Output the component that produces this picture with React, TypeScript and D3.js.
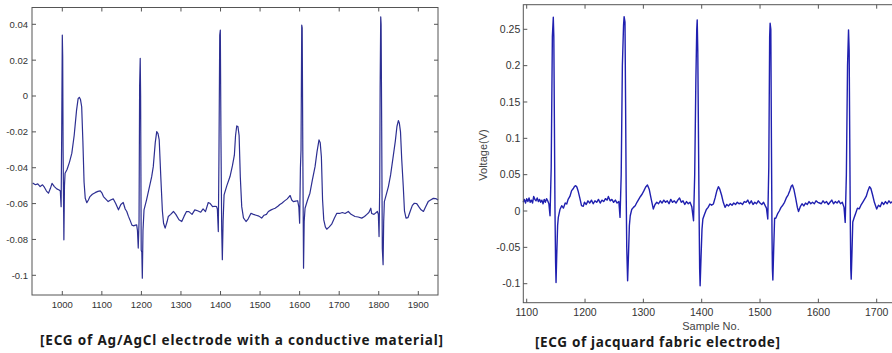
import * as d3 from 'd3'

document.body.style.margin = '0'

// [sample, value]
const agAgClSeries: [number, number][] = [
  [925, -0.0485], [932, -0.0495], [938, -0.049], [944, -0.0505], [950, -0.0495], [955, -0.051],
  [960, -0.053], [965, -0.0542], [970, -0.0515], [974, -0.0487], [980, -0.0505], [986, -0.0518],
  [992, -0.0524], [995, -0.053], [997, -0.0617], [998.5, -0.02], [1000, 0.034], [1001, 0.022],
  [1002, -0.03], [1004, -0.0802], [1005.5, -0.05], [1007, -0.0431], [1012, -0.041], [1018, -0.037],
  [1024, -0.032], [1030, -0.022], [1036, -0.008], [1040, -0.0015], [1043, -0.0007], [1046, -0.002],
  [1049, -0.006], [1052, -0.025], [1055, -0.048], [1058, -0.057], [1062, -0.0595], [1066, -0.058],
  [1070, -0.0561], [1076, -0.0548], [1083, -0.0539], [1090, -0.0532], [1096, -0.0529], [1100, -0.054],
  [1104, -0.0561], [1110, -0.0575], [1116, -0.0589], [1122, -0.058], [1129, -0.0574], [1135, -0.06],
  [1142, -0.0635], [1148, -0.0605], [1154, -0.0594], [1159, -0.063], [1163, -0.0644], [1167, -0.067],
  [1171, -0.0691], [1176, -0.072], [1180, -0.0724], [1185, -0.072], [1188, -0.0719], [1190, -0.075],
  [1192, -0.0848], [1194, -0.07], [1195.5, 0.006], [1197, 0.021], [1198, 0.0], [1199.5, -0.086],
  [1201, -0.087], [1202.3, -0.1016], [1204, -0.075], [1206.6, -0.0635], [1213, -0.0579], [1220, -0.051],
  [1226, -0.045], [1230, -0.0394], [1235, -0.026], [1238.7, -0.0199], [1242, -0.021], [1245, -0.0245],
  [1249, -0.045], [1253, -0.064], [1256, -0.071], [1260, -0.0737], [1265, -0.07], [1268, -0.0672],
  [1274, -0.066], [1281, -0.0644], [1287, -0.066], [1295, -0.069], [1302, -0.07], [1308, -0.067],
  [1314, -0.0644], [1320, -0.0645], [1328, -0.066], [1335, -0.0635], [1342, -0.064], [1350, -0.0648],
  [1356, -0.063], [1362, -0.0645], [1369, -0.0594], [1374, -0.06], [1380, -0.0617], [1386, -0.0615],
  [1390, -0.0617], [1392, -0.063], [1394.4, -0.0756], [1396, -0.035], [1398, 0.034], [1399.5, 0.0368],
  [1401, -0.02], [1403, -0.075], [1404.6, -0.0913], [1406.5, -0.07], [1409, -0.0551], [1416, -0.05],
  [1424, -0.0449], [1430, -0.039], [1435, -0.033], [1438, -0.022], [1441, -0.0167], [1444, -0.017],
  [1447, -0.022], [1450, -0.045], [1453.6, -0.0617], [1458, -0.068], [1464.5, -0.07], [1470, -0.0685],
  [1477, -0.0654], [1483, -0.066], [1490, -0.0665], [1497, -0.067], [1504, -0.0681], [1510, -0.0665],
  [1516, -0.066], [1521, -0.0644], [1528, -0.0635], [1533, -0.063], [1538, -0.0626], [1545, -0.0615],
  [1550, -0.0605], [1555, -0.0598], [1562, -0.0585], [1568, -0.0575], [1572, -0.0565], [1576, -0.0555],
  [1580, -0.058], [1584, -0.0589], [1590, -0.0586], [1595, -0.0584], [1598, -0.062], [1600, -0.0709],
  [1602, -0.04], [1603.5, -0.03], [1605.3, 0.0395], [1606.5, 0.038], [1608, -0.03], [1609.9, -0.096],
  [1611.5, -0.07], [1613.7, -0.0626], [1620, -0.058], [1626, -0.0542], [1632, -0.047], [1639, -0.0394],
  [1644, -0.031], [1649, -0.0245], [1652, -0.026], [1655, -0.034], [1658, -0.058], [1661, -0.0691],
  [1665, -0.073], [1668.5, -0.0743], [1675, -0.073], [1681, -0.0715], [1688, -0.068], [1694, -0.0654],
  [1701, -0.0655], [1708, -0.065], [1715, -0.0655], [1723, -0.0644], [1730, -0.066], [1740, -0.0672],
  [1748, -0.0675], [1757, -0.0681], [1764, -0.0672], [1770, -0.066], [1775, -0.065], [1780, -0.0626],
  [1782, -0.0655], [1788, -0.066], [1796.5, -0.0644], [1799, -0.066], [1800.8, -0.0784], [1802.5, -0.05],
  [1803.5, 0.005], [1805, 0.0442], [1806, 0.04], [1807.5, -0.02], [1809, -0.085], [1811, -0.0941],
  [1812.5, -0.07], [1814.2, -0.0589], [1819, -0.055], [1824.4, -0.0505], [1830, -0.044], [1837, -0.033],
  [1842, -0.025], [1846, -0.017], [1849.6, -0.0137], [1852, -0.015], [1855, -0.02], [1858, -0.035],
  [1862, -0.0505], [1865, -0.064], [1869, -0.0681], [1874, -0.0678], [1880, -0.064], [1885, -0.061],
  [1890, -0.0598], [1896, -0.06], [1902, -0.062], [1907, -0.0635], [1913, -0.0644], [1918, -0.062],
  [1925, -0.0589], [1931, -0.058], [1938, -0.0571], [1944, -0.0572], [1950, -0.058],
]

// [sample, volts]
const jacquardSeries: [number, number][] = [
  [1094, 0.012], [1096, 0.016], [1098, 0.011], [1100, 0.017], [1102, 0.013], [1104, 0.018], [1106, 0.012],
  [1108, 0.015], [1110, 0.011], [1112, 0.02], [1114, 0.016], [1116, 0.014], [1118, 0.018], [1120, 0.013],
  [1122, 0.016], [1124, 0.012], [1126, 0.015], [1128, 0.01], [1130, 0.016], [1132, 0.012], [1134, 0.017],
  [1136, 0.014], [1138, 0.01], [1140, -0.0065], [1142, 0.06], [1144, 0.24], [1145.6, 0.2666], [1146.5, 0.24],
  [1147.5, 0.12], [1148.5, 0.0], [1149.5, -0.07], [1150.3, -0.0983], [1151.5, -0.06], [1153, -0.02],
  [1154.2, -0.0088], [1157, 0.002], [1160, 0.0073], [1163, 0.004], [1166, 0.011], [1168.6, 0.0096],
  [1171, 0.016], [1174, 0.02], [1177, 0.028], [1180, 0.031], [1182, 0.034], [1184, 0.0348], [1186, 0.033],
  [1188, 0.028], [1191, 0.018], [1194, 0.0073], [1197, 0.0064], [1199, 0.012], [1202, 0.009], [1205, 0.014],
  [1208, 0.011], [1211, 0.015], [1214, 0.01], [1217, 0.014], [1220, 0.012], [1223, 0.016], [1226, 0.011],
  [1229, 0.015], [1232, 0.013], [1235, 0.017], [1238, 0.015], [1240, 0.02], [1243, 0.014], [1246, 0.016],
  [1249, 0.012], [1252, 0.015], [1255, 0.011], [1258, 0.013], [1260, -0.0088], [1262, 0.05], [1264, 0.2],
  [1266, 0.255], [1267, 0.2675], [1268.5, 0.26], [1269.5, 0.15], [1270.5, 0.03], [1271.5, -0.05],
  [1273, -0.096], [1274.5, -0.06], [1276, -0.02], [1277.5, -0.0065], [1280, 0.002], [1283, 0.005],
  [1286, 0.0073], [1289, 0.012], [1292, 0.016], [1295, 0.02], [1298, 0.0234], [1301, 0.028], [1304, 0.033],
  [1307, 0.0358], [1310, 0.03], [1313, 0.018], [1317, 0.0028], [1320, 0.009], [1323, 0.012], [1326, 0.01],
  [1329, 0.014], [1332, 0.011], [1335, 0.015], [1338, 0.012], [1341, 0.014], [1344, 0.01], [1347, 0.016],
  [1350, 0.012], [1353, 0.014], [1356, 0.011], [1359, 0.015], [1362, 0.018], [1365, 0.012], [1368, 0.014],
  [1371, 0.009], [1374, 0.013], [1377, 0.01], [1380, 0.012], [1383, 0.006], [1386, -0.0134], [1388, 0.05],
  [1390, 0.18], [1391.5, 0.25], [1392.3, 0.263], [1393.3, 0.22], [1394.5, 0.1], [1395.5, 0.0],
  [1396.5, -0.08], [1397.3, -0.1029], [1399, -0.06], [1400.5, -0.025], [1402, -0.011], [1405, -0.004],
  [1408, 0.002], [1411, 0.005], [1414, 0.0096], [1417, 0.008], [1420, 0.0096], [1423, 0.018], [1426, 0.028],
  [1428.6, 0.0335], [1431, 0.03], [1434, 0.022], [1437, 0.012], [1440, 0.005], [1443, 0.009], [1446, 0.007],
  [1449, 0.01], [1452, 0.008], [1455, 0.011], [1458, 0.009], [1461, 0.012], [1464, 0.01], [1467, 0.011],
  [1470, 0.009], [1473, 0.013], [1476, 0.012], [1479, 0.015], [1482, 0.01], [1485, 0.014], [1488, 0.009],
  [1491, 0.012], [1494, 0.01], [1497, 0.014], [1500, 0.011], [1503, 0.009], [1506, 0.012], [1509, 0.007],
  [1511, 0.004], [1513.3, -0.011], [1515, 0.06], [1516.5, 0.24], [1517.3, 0.2583], [1518.5, 0.25],
  [1519.5, 0.1], [1520.5, -0.03], [1521.2, -0.08], [1522, -0.095], [1523.5, -0.05], [1525, -0.01],
  [1527, -0.01], [1530, -0.004], [1533, 0.0], [1536, 0.005], [1539, 0.008], [1542, 0.012], [1545, 0.018],
  [1548, 0.022], [1551, 0.028], [1553.5, 0.034], [1555.6, 0.0358], [1558, 0.03], [1561, 0.018], [1564, 0.005],
  [1566, -0.0006], [1569, 0.006], [1572, 0.01], [1575, 0.007], [1578, 0.011], [1581, 0.009], [1584, 0.013],
  [1587, 0.01], [1590, 0.012], [1593, 0.01], [1596, 0.014], [1599, 0.012], [1602, 0.011], [1605, 0.01],
  [1608, 0.014], [1611, 0.011], [1614, 0.013], [1617, 0.009], [1620, 0.012], [1623, 0.015], [1626, 0.01],
  [1629, 0.013], [1632, 0.011], [1635, 0.014], [1638, 0.01], [1641, 0.012], [1644, 0.005], [1646, -0.0157],
  [1648, 0.05], [1650, 0.2], [1651.7, 0.2492], [1652.8, 0.22], [1653.8, 0.1], [1654.8, -0.02],
  [1655.6, -0.08], [1656.3, -0.0937], [1657.5, -0.06], [1659, -0.015], [1661, -0.01], [1664, -0.003],
  [1667, 0.004], [1670, 0.003], [1673, 0.008], [1676, 0.012], [1679, 0.016], [1682, 0.02], [1685, 0.028],
  [1687.7, 0.0335], [1690, 0.031], [1693, 0.022], [1696, 0.012], [1700, 0.0028], [1703, 0.008], [1706, 0.006],
  [1709, 0.012], [1712, 0.009], [1715, 0.013], [1718, 0.01], [1721, 0.014], [1724, 0.011], [1727, 0.013],
  [1730, 0.009], [1733, 0.012],
]

const leftXTicks = [1000, 1100, 1200, 1300, 1400, 1500, 1600, 1700, 1800, 1900]
const leftYTicks = [0.04, 0.02, 0, -0.02, -0.04, -0.06, -0.08, -0.1]
const rightXTicks = [1100, 1200, 1300, 1400, 1500, 1600, 1700]
const rightYTicks = [0.25, 0.2, 0.15, 0.1, 0.05, 0, -0.05, -0.1]

const leftCaption = '[ECG of Ag/AgCl electrode with a conductive material]'
const rightCaption = '[ECG of jacquard fabric electrode]'

const W = 892
const H = 353
const TICK = 4
const FRAME = '#555'
const LABEL = '#333'
const FONT = '"Liberation Sans", Arial, sans-serif'
const CAPTION_FONT = '"Noto Sans", "Open Sans", sans-serif'

const fmt = (v: number) => {
  if (v === 0) return '0'
  return String(+v.toFixed(2))
}

export default function App() {
  // left panel
  const lBox = { x0: 32, x1: 438, y0: 7.5, y1: 295 }
  const lx = d3.scaleLinear().domain([1000, 1900]).range([62.3, 418.3])
  const ly = d3.scaleLinear().domain([-0.1, 0.04]).range([275.3, 24.3])
  const lLine = d3.line<[number, number]>().x(d => lx(d[0])).y(d => ly(d[1]))

  // right panel (runs past the right edge of the picture)
  const rBox = { x0: 523.3, x1: 910, y0: 4.7, y1: 302.7 }
  const rx = d3.scaleLinear().domain([1100, 1700]).range([526.7, 876.7])
  const ry = d3.scaleLinear().domain([-0.1, 0.25]).range([283.7, 29.3])
  const rLine = d3.line<[number, number]>().x(d => rx(d[0])).y(d => ry(d[1]))

  return (
    <svg width={W} height={H} style={{ display: 'block', background: '#fff' }}>
      {/* ── left panel ── */}
      <path d={lLine(agAgClSeries) ?? ''} fill="none" stroke="#2d2f92" strokeWidth={1.2} strokeLinejoin="round" />
      <rect x={lBox.x0} y={lBox.y0} width={lBox.x1 - lBox.x0} height={lBox.y1 - lBox.y0}
        fill="none" stroke={FRAME} strokeWidth={1} />
      {leftXTicks.map(t => (
        <g key={`lx${t}`}>
          <line x1={lx(t)} x2={lx(t)} y1={lBox.y1} y2={lBox.y1 - TICK} stroke={FRAME} />
          <line x1={lx(t)} x2={lx(t)} y1={lBox.y0} y2={lBox.y0 + TICK} stroke={FRAME} />
          <text x={lx(t)} y={lBox.y1 + 12.5} textAnchor="middle" fontFamily={FONT} fontSize={9.5} fill={LABEL}>{t}</text>
        </g>
      ))}
      {leftYTicks.map(t => (
        <g key={`ly${t}`}>
          <line x1={lBox.x0} x2={lBox.x0 + TICK} y1={ly(t)} y2={ly(t)} stroke={FRAME} />
          <line x1={lBox.x1} x2={lBox.x1 - TICK} y1={ly(t)} y2={ly(t)} stroke={FRAME} />
          <text x={lBox.x0 - 4} y={ly(t) + 3.4} textAnchor="end" fontFamily={FONT} fontSize={9.5} fill={LABEL}>{fmt(t)}</text>
        </g>
      ))}
      <text x={40} y={345} textLength={403} lengthAdjust="spacing" fontFamily={CAPTION_FONT}
        fontWeight="bold" fontSize={13.5} fill="#1a1a1a">{leftCaption}</text>

      {/* ── right panel ── */}
      <path d={rLine(jacquardSeries) ?? ''} fill="none" stroke="#2020b0" strokeWidth={1.4} strokeLinejoin="round" />
      <rect x={rBox.x0} y={rBox.y0} width={rBox.x1 - rBox.x0} height={rBox.y1 - rBox.y0}
        fill="none" stroke={FRAME} strokeWidth={1} />
      {rightXTicks.map(t => (
        <g key={`rx${t}`}>
          <line x1={rx(t)} x2={rx(t)} y1={rBox.y1} y2={rBox.y1 - TICK} stroke={FRAME} />
          <line x1={rx(t)} x2={rx(t)} y1={rBox.y0} y2={rBox.y0 + TICK} stroke={FRAME} />
          <text x={rx(t)} y={rBox.y1 + 13} textAnchor="middle" fontFamily={FONT} fontSize={10.5} fill={LABEL}>{t}</text>
        </g>
      ))}
      {rightYTicks.map(t => (
        <g key={`ry${t}`}>
          <line x1={rBox.x0} x2={rBox.x0 + TICK} y1={ry(t)} y2={ry(t)} stroke={FRAME} />
          <text x={rBox.x0 - 3} y={ry(t) + 3.7} textAnchor="end" fontFamily={FONT} fontSize={10.5} fill={LABEL}>{fmt(t)}</text>
        </g>
      ))}
      <text x={711} y={330} textAnchor="middle" fontFamily={FONT} fontSize={11} fill="#444">Sample No.</text>
      <text transform="translate(487,155) rotate(-90)" textAnchor="middle" fontFamily={FONT} fontSize={11} fill="#444">Voltage(V)</text>
      <text x={535} y={347} textLength={245} lengthAdjust="spacing" fontFamily={CAPTION_FONT}
        fontWeight="bold" fontSize={13.5} fill="#1a1a1a">{rightCaption}</text>
    </svg>
  )
}
